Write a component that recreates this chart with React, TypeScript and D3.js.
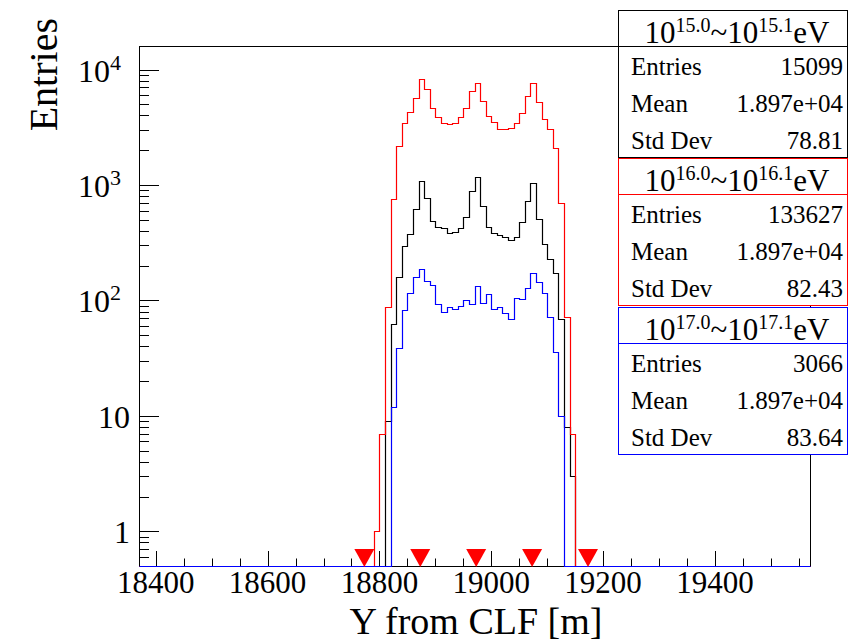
import * as d3 from "d3";

// histogram binning (10 m bins over the drawn range)
const xMin = 18370;
const xMax = 19570;
const binWidth = 10;

// bin contents, starting at the lower edge given
const blackStart = 18810;
const blackCounts = [9, 63, 161, 297, 377, 621, 1085, 778, 489, 436, 427, 385, 395, 427, 526, 884, 1168, 659, 436, 385, 372, 353, 332, 355, 479, 732, 1043, 511, 311, 228, 174, 69, 8, 3];

const redStart = 18790;
const redCounts = [1, 7, 87, 753, 2182, 3432, 4299, 5721, 8356, 6845, 4686, 3914, 3473, 3384, 3473, 3868, 4686, 6577, 7716, 5356, 3993, 3501, 3082, 3082, 3125, 3473, 4240, 5953, 7716, 5250, 3762, 3063, 2097, 696, 72, 7];

const blueStart = 18820;
const blueCounts = [12, 39, 83, 117, 159, 186, 148, 136, 93, 80, 88, 84, 90, 101, 93, 132, 95, 114, 84, 88, 78, 69, 105, 103, 128, 174, 143, 116, 72, 36, 10];

// red markers along the axis
const markerPositions = [18773, 18873, 18973, 19073, 19173];

// axis ticks
const xMajorTicks = [18400, 18600, 18800, 19000, 19200, 19400];
const yMajorTicks = [1, 10, 100, 1000, 10000];

// stats boxes
const statLow = ["15.0", "16.0", "17.0"];
const statHigh = ["15.1", "16.1", "17.1"];
const statEntries = ["15099", "133627", "3066"];
const statMeans = ["1.897e+04", "1.897e+04", "1.897e+04"];
const statStdDevs = ["78.81", "82.43", "83.64"];
const statColors = ["#000000", "#ff0000", "#0000ff"];

const W = 848;
const H = 642;
const frame = { left: 139, right: 810, top: 46, bottom: 566 };
const FONT = "'Liberation Serif', 'DejaVu Serif', serif";

const x = d3.scaleLinear().domain([xMin, xMax]).range([frame.left, frame.right]);
const y = d3.scaleLog().domain([0.5, 16000]).range([frame.bottom, frame.top]);

// snap to pixel centres so 1px lines stay sharp
const px = (v: number) => Math.round(v) + 0.5;

// step outline over the full range, empty bins sit on the bottom edge
function histPath(start: number, counts: number[]) {
  const nBins = Math.round((xMax - xMin) / binWidth);
  const pts: [number, number][] = [];
  for (let i = 0; i < nBins; i++) {
    const lo = xMin + i * binWidth;
    const idx = Math.round((lo - start) / binWidth);
    const v = idx >= 0 && idx < counts.length ? counts[idx] : 0;
    pts.push([lo, v]);
  }
  pts.push([xMax, pts[pts.length - 1][1]]);
  const line = d3
    .line<[number, number]>()
    .x((d) => px(x(d[0])))
    .y((d) => px(d[1] > 0 ? Math.min(y(d[1]), frame.bottom) : frame.bottom))
    .curve(d3.curveStepAfter);
  return line(pts) || "";
}

function yMinorTicks() {
  const out: number[] = [];
  for (let e = -1; e <= 4; e++) {
    for (let k = 2; k <= 9; k++) {
      const v = k * Math.pow(10, e);
      if (v > 0.5 && v < 16000) out.push(v);
    }
  }
  return out;
}

function xMinorTicks() {
  const out: number[] = [];
  for (let v = 18400; v < xMax; v += 50) {
    if (v % 200 !== 0) out.push(v);
  }
  return out;
}

const StatBox = ({ i }: { i: number }) => {
  const top = Math.round(10 + i * 148.3) + 0.5;
  const hdr = 36;
  const row = 37;
  const left = 618.5;
  const right = 847.5;
  const col = statColors[i];
  const rows = [
    ["Entries", statEntries[i]],
    ["Mean", statMeans[i]],
    ["Std Dev", statStdDevs[i]],
  ];
  return (
    <g>
      <rect x={left} y={top} width={right - left} height={hdr + row * 3} fill="#fff" stroke={col} strokeWidth={1} />
      <line x1={left} x2={right} y1={top + hdr} y2={top + hdr} stroke={col} strokeWidth={1} />
      <text x={737} y={top + 32} textAnchor="middle" fontSize={31} fontFamily={FONT}>
        <tspan>10</tspan>
        <tspan fontSize={20} dy={-11}>{statLow[i]}</tspan>
        <tspan dy={11}>~10</tspan>
        <tspan fontSize={20} dy={-11}>{statHigh[i]}</tspan>
        <tspan dy={11}>eV</tspan>
      </text>
      {rows.map((r, j) => (
        <g key={j}>
          <text x={631} y={top + hdr + 28.5 + j * row} fontSize={25} fontFamily={FONT}>{r[0]}</text>
          <text x={843} y={top + hdr + 28.5 + j * row} fontSize={25} fontFamily={FONT} textAnchor="end">{r[1]}</text>
        </g>
      ))}
    </g>
  );
};

export default function App() {
  const supers: Record<number, string> = { 100: "2", 1000: "3", 10000: "4" };
  return (
    <div style={{ position: "absolute", left: 0, top: 0 }}>
      <svg width={W} height={H} style={{ display: "block", background: "#fff" }}>
        <rect width={W} height={H} fill="#fff" />

        {/* frame */}
        <rect x={px(frame.left)} y={px(frame.top)} width={frame.right - frame.left} height={frame.bottom - frame.top} fill="none" stroke="#000" strokeWidth={1} />

        {/* y ticks */}
        {yMajorTicks.map((v) => (
          <line key={"ym" + v} x1={px(frame.left)} x2={frame.left + 20} y1={px(y(v))} y2={px(y(v))} stroke="#000" strokeWidth={1} />
        ))}
        {yMinorTicks().map((v) => (
          <line key={"yn" + v} x1={px(frame.left)} x2={frame.left + 10} y1={px(y(v))} y2={px(y(v))} stroke="#000" strokeWidth={1} />
        ))}
        {yMajorTicks.map((v) =>
          supers[v] ? (
            <text key={"yl" + v} x={121} y={y(v) + 12} textAnchor="end" fontSize={32} fontFamily={FONT}>
              10<tspan fontSize={22} dy={-12}>{supers[v]}</tspan>
            </text>
          ) : (
            <text key={"yl" + v} x={130} y={y(v) + 12} textAnchor="end" fontSize={32} fontFamily={FONT}>
              {String(v)}
            </text>
          )
        )}

        {/* x ticks */}
        {xMajorTicks.map((v) => (
          <line key={"xm" + v} x1={px(x(v))} x2={px(x(v))} y1={frame.bottom} y2={frame.bottom - 15} stroke="#000" strokeWidth={1} />
        ))}
        {xMinorTicks().map((v) => (
          <line key={"xn" + v} x1={px(x(v))} x2={px(x(v))} y1={frame.bottom} y2={frame.bottom - 7.5} stroke="#000" strokeWidth={1} />
        ))}
        {xMajorTicks.map((v) => (
          <text key={"xl" + v} x={x(v)} y={593} textAnchor="middle" fontSize={31} fontFamily={FONT}>
            {String(v)}
          </text>
        ))}

        {/* histograms */}
        <g fill="none" strokeWidth={1.2}>
          <path d={histPath(blackStart, blackCounts)} stroke="#000" />
          <path d={histPath(redStart, redCounts)} stroke="#ff0000" />
          <path d={histPath(blueStart, blueCounts)} stroke="#0000ff" />
        </g>

        {/* markers */}
        {markerPositions.map((v) => {
          const cx = x(v);
          return <path key={"mk" + v} d={`M${cx - 10},${549}L${cx + 10},${549}L${cx},${567}Z`} fill="#ff0000" />;
        })}

        {/* titles */}
        <text x={476} y={633.5} textAnchor="middle" fontSize={38} fontFamily={FONT}>Y from CLF [m]</text>
        <text transform="translate(57,18) rotate(-90)" textAnchor="end" fontSize={40} fontFamily={FONT}>Entries</text>

        {/* stats boxes */}
        <StatBox i={2} />
        <StatBox i={1} />
        <StatBox i={0} />
      </svg>
    </div>
  );
}
